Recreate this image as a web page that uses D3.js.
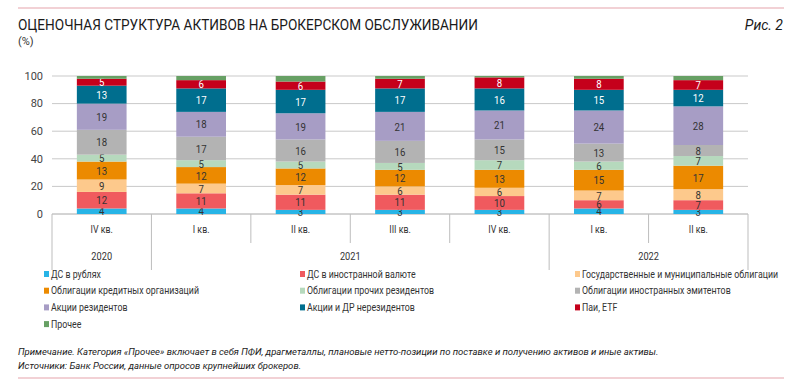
<!DOCTYPE html>
<html>
<head>
<meta charset="utf-8">
<script src="https://cdn.jsdelivr.net/npm/d3@7"></script>
<style>
  body { margin: 0; background: #fff; }
  svg { display: block; }
  text { font-family: "Liberation Sans Narrow", "Roboto", "DejaVu Sans Condensed", sans-serif; }
</style>
</head>
<body>
<div id="chart"></div>
<script>
const quarters = ['IV кв.', 'I кв.', 'II кв.', 'III кв.', 'IV кв.', 'I кв.', 'II кв.'];
const years = [
  { label: '2020', span: 1 },
  { label: '2021', span: 4 },
  { label: '2022', span: 2 },
];

const seriesNames = [
  'ДС в рублях',
  'ДС в иностранной валюте',
  'Государственные и муниципальные облигации',
  'Облигации кредитных организаций',
  'Облигации прочих резидентов',
  'Облигации иностранных эмитентов',
  'Акции резидентов',
  'Акции и ДР нерезидентов',
  'Паи, ETF',
  'Прочее',
];
const seriesColors = [
  '#27b4e6', '#f05a5e', '#fdc98c', '#ec8a00', '#b6d9bd',
  '#b3b3b3', '#a79dc5', '#006e8e', '#c5001b', '#67a064',
];
const labelColors = [
  '#333', '#333', '#333', '#333', '#333',
  '#333', '#333', '#fff', '#fff', null,
];

// values bottom to top, one array per series
const dsRub      = [4, 4, 3, 3, 3, 4, 3];
const dsFx       = [12, 11, 11, 11, 10, 6, 7];
const govBonds   = [9, 7, 7, 6, 6, 7, 8];
const bankBonds  = [13, 12, 12, 12, 13, 15, 17];
const otherBonds = [5, 5, 5, 5, 7, 6, 7];
const foreignBonds = [18, 17, 16, 16, 15, 13, 8];
const resShares  = [19, 18, 19, 21, 21, 24, 28];
const nonResShares = [13, 17, 17, 17, 16, 15, 12];
const funds      = [5, 6, 6, 7, 8, 8, 7];
const other      = [2, 3, 4, 2, 1, 2, 3];

const yTicks = [0, 20, 40, 60, 80, 100];

const seriesValues = [dsRub, dsFx, govBonds, bankBonds, otherBonds,
  foreignBonds, resShares, nonResShares, funds, other];

const width = 800, height = 380;
const plot = { left: 52, right: 748, top: 76, bottom: 214 };
const narrow = 0.84; // squeeze text horizontally, the source font is condensed

const svg = d3.select('#chart').append('svg')
  .attr('width', width)
  .attr('height', height);

// header / footer rules
svg.append('line')
  .attr('x1', 18).attr('x2', 784).attr('y1', 8).attr('y2', 8)
  .attr('stroke', '#e6a3ab').attr('stroke-width', 1.2);
svg.append('line')
  .attr('x1', 18).attr('x2', 784).attr('y1', 378).attr('y2', 378)
  .attr('stroke', '#e6a3ab').attr('stroke-width', 1.2);

svg.append('text')
  .attr('x', 18).attr('y', 30)
  .attr('font-size', 15).attr('fill', '#1a1a1a')
  .attr('textLength', 460).attr('lengthAdjust', 'spacingAndGlyphs')
  .text('ОЦЕНОЧНАЯ СТРУКТУРА АКТИВОВ НА БРОКЕРСКОМ ОБСЛУЖИВАНИИ');
svg.append('text')
  .attr('x', 18).attr('y', 45)
  .attr('font-size', 11).attr('fill', '#333')
  .text('(%)');
svg.append('text')
  .attr('x', 783).attr('y', 30)
  .attr('text-anchor', 'end')
  .attr('font-size', 14).attr('font-style', 'italic').attr('fill', '#1a1a1a')
  .text('Рис. 2');

const x = d3.scaleBand()
  .domain(d3.range(quarters.length))
  .range([plot.left, plot.right])
  .paddingInner(0.5)
  .paddingOuter(0.25);

const y = d3.scaleLinear()
  .domain([0, 100])
  .range([plot.bottom, plot.top]);

// grid
svg.append('g')
  .selectAll('line')
  .data(yTicks)
  .join('line')
  .attr('x1', plot.left).attr('x2', plot.right)
  .attr('y1', d => y(d)).attr('y2', d => y(d))
  .attr('stroke', d => d === 0 ? '#a8a8a8' : '#c9c9c9')
  .attr('stroke-width', 1);

svg.append('g')
  .selectAll('text')
  .data(yTicks)
  .join('text')
  .attr('x', 43)
  .attr('y', d => y(d))
  .attr('dy', '0.35em')
  .attr('text-anchor', 'end')
  .attr('font-size', 11)
  .attr('fill', '#444')
  .text(d => d);

// stacked bars
const table = quarters.map((q, i) => {
  const row = { i };
  seriesNames.forEach((s, k) => { row[s] = seriesValues[k][i]; });
  return row;
});
const stack = d3.stack().keys(seriesNames)(table);

const layers = svg.append('g')
  .selectAll('g')
  .data(stack)
  .join('g')
  .attr('fill', (d, k) => seriesColors[k]);

layers.selectAll('rect')
  .data(d => d)
  .join('rect')
  .attr('x', d => x(d.data.i))
  .attr('width', x.bandwidth())
  .attr('y', d => y(d[1]))
  .attr('height', d => y(d[0]) - y(d[1]));

layers.filter((d, k) => labelColors[k] !== null)
  .selectAll('text')
  .data(d => d.map(p => ({ p, color: labelColors[d.index] })))
  .join('text')
  .attr('transform', d => {
    const cx = x(d.p.data.i) + x.bandwidth() / 2;
    const cy = (y(d.p[0]) + y(d.p[1])) / 2;
    return `translate(${cx},${cy}) scale(${narrow},1)`;
  })
  .attr('dy', '0.36em')
  .attr('text-anchor', 'middle')
  .attr('font-size', 11.5)
  .attr('fill', d => d.color)
  .text(d => d.p[1] - d.p[0]);

// category axis
const step = x.step();
const edge = i => plot.left + i * step;

const yearStarts = [];
let acc = 0;
years.forEach(yr => { yearStarts.push(acc); acc += yr.span; });

const dividers = d3.range(quarters.length + 1).map(i => ({
  i,
  long: i === quarters.length || yearStarts.includes(i),
}));

svg.append('g')
  .selectAll('line')
  .data(dividers)
  .join('line')
  .attr('x1', d => edge(d.i)).attr('x2', d => edge(d.i))
  .attr('y1', plot.bottom)
  .attr('y2', d => d.long ? 270 : 243)
  .attr('stroke', '#bdbdbd');

svg.append('g')
  .selectAll('text')
  .data(quarters)
  .join('text')
  .attr('transform', (d, i) => `translate(${x(i) + x.bandwidth() / 2},229) scale(${narrow},1)`)
  .attr('dy', '0.35em')
  .attr('text-anchor', 'middle')
  .attr('font-size', 10.5)
  .attr('fill', '#333')
  .text(d => d);

svg.append('g')
  .selectAll('text')
  .data(years)
  .join('text')
  .attr('transform', (d, k) => {
    const cx = (edge(yearStarts[k]) + edge(yearStarts[k] + d.span)) / 2;
    return `translate(${cx},256) scale(${narrow},1)`;
  })
  .attr('dy', '0.35em')
  .attr('text-anchor', 'middle')
  .attr('font-size', 11)
  .attr('fill', '#333')
  .text(d => d.label);

// legend
const legendCols = [44, 300, 575];
const legend = svg.append('g')
  .selectAll('g')
  .data(seriesNames)
  .join('g')
  .attr('transform', (d, k) => `translate(${legendCols[k % 3]},${274 + Math.floor(k / 3) * 16.7})`);

legend.append('rect')
  .attr('x', 0).attr('y', -3)
  .attr('width', 5).attr('height', 6)
  .attr('fill', (d, k) => seriesColors[k]);

legend.append('text')
  .attr('transform', `translate(7,0) scale(${narrow},1)`)
  .attr('dy', '0.35em')
  .attr('font-size', 10.5)
  .attr('fill', '#333')
  .text(d => d);

// notes
svg.append('text')
  .attr('x', 18).attr('y', 355)
  .attr('font-size', 9.5).attr('font-style', 'italic').attr('fill', '#222')
  .text('Примечание. Категория «Прочее» включает в себя ПФИ, драгметаллы, плановые нетто-позиции по поставке и получению активов и иные активы.');
svg.append('text')
  .attr('x', 18).attr('y', 369)
  .attr('font-size', 9.5).attr('font-style', 'italic').attr('fill', '#222')
  .text('Источники: Банк России, данные опросов крупнейших брокеров.');
</script>
</body>
</html>
